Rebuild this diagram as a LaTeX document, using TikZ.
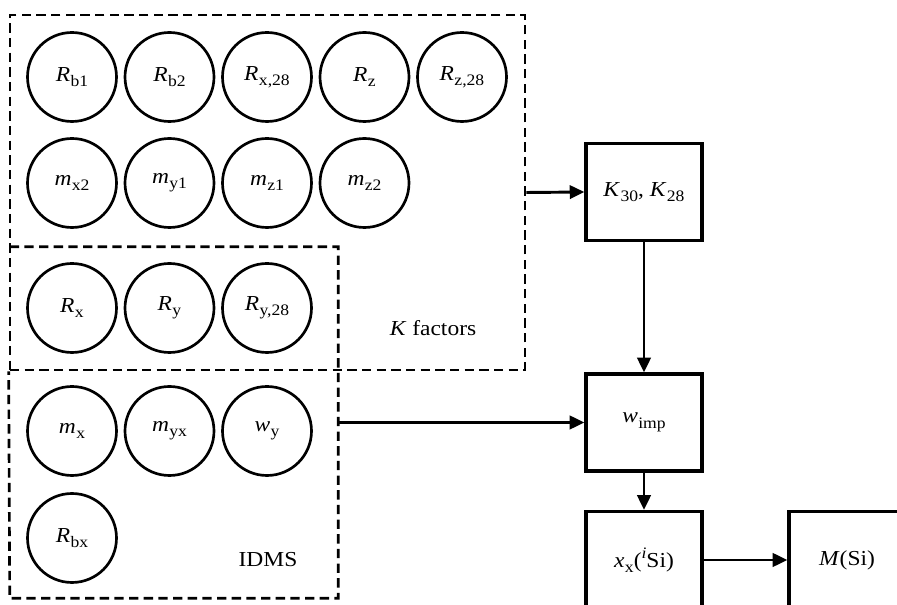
\documentclass[tikz,border=0pt]{standalone}
\usepackage{fontspec}
\setmainfont[FakeStretch=1.1]{Liberation Serif}
\usetikzlibrary{arrows.meta}
% variable with an upright subscript
\newcommand\qsub[2]{\textit{#1}\kern0.3pt\raisebox{-0.55ex}{\fontsize{12pt}{13pt}\selectfont #2}}
\tikzset{
  qty/.style={circle,draw,line width=2pt,minimum size=66.75pt,inner sep=0pt,font=\fontsize{16pt}{18pt}\selectfont},
  calcbox/.style={rectangle,draw,line width=2.4pt,minimum width=87pt,minimum height=72.75pt,inner sep=0pt,font=\fontsize{16pt}{18pt}\selectfont},
  groupline/.style={line width=2pt,dash pattern=on 7pt off 4pt},
  group/.style={rectangle,inner sep=0pt},
  grouplabel/.style={font=\fontsize{16pt}{18pt}\selectfont,inner sep=0pt},
  flow/.style={line width=2.2pt,-{Triangle[length=11pt,width=10pt]}}
}
\begin{document}
\begin{tikzpicture}[x=0.75pt,y=-0.75pt]
\clip (0,0) rectangle (897,605);
\fill[white] (0,0) rectangle (897,605);

% dashed groups; the IDMS outline shares its upper left edge with the K group
\node[group,draw,groupline,minimum width=386.25pt,minimum height=266.25pt] (kgroup) at (267.5,192.5) {};
\node[group,minimum width=246pt,minimum height=263.25pt] (idms) at (174,422.5) {};
\draw[groupline] (idms.north west) -- (idms.north east) -- (idms.south east)
  -- (idms.south west) -- (kgroup.south west);
\node[grouplabel] (klabel) at (433,328) {\textit{K} factors};
\node[grouplabel] (idmslabel) at (268,560) {IDMS};

% input quantities
\node[qty] (rb1) at (72,77) {\qsub{R}{b1}};
\node[qty] (rb2) at (169.5,77) {\qsub{R}{b2}};
\node[qty] (rx28) at (267,77) {\qsub{R}{x,28}};
\node[qty] (rz) at (364.5,77) {\qsub{R}{z}};
\node[qty] (rz28) at (462,77) {\qsub{R}{z,28}};

\node[qty] (mx2) at (72,183) {\qsub{m}{x2}};
\node[qty] (my1) at (169.5,183) {\qsub{m}{y1}};
\node[qty] (mz1) at (267,183) {\qsub{m}{z1}};
\node[qty] (mz2) at (364.5,183) {\qsub{m}{z2}};

\node[qty] (rx) at (72,308) {\qsub{R}{x}};
\node[qty] (ry) at (169.5,308) {\qsub{R}{y}};
\node[qty] (ry28) at (267,308) {\qsub{R}{y,28}};

\node[qty] (mx) at (72,431) {\qsub{m}{x}};
\node[qty] (myx) at (169.5,431) {\qsub{m}{yx}};
\node[qty] (wy) at (267,431) {\qsub{w}{y}};

\node[qty] (rbx) at (72,538) {\qsub{R}{bx}};

% calculation chain
\node[calcbox] (kf) at (644,192) {\qsub{K}{30}, \qsub{K}{28}};
\node[calcbox] (wimp) at (644,422.5) {\qsub{w}{imp}};
\node[calcbox] (xx) at (644,560) {\qsub{x}{x}(\raisebox{0.9ex}{\fontsize{12pt}{13pt}\selectfont\textit{i}}Si)};
\node[calcbox] (msi) at (847,560) {\textit{M}(Si)};

\draw[flow] (kgroup.east) -- (kf.west);
\draw[flow] (idms.east) -- (wimp.west);
\draw[flow] (kf.south) -- (wimp.north);
\draw[flow] (wimp.south) -- (xx.north);
\draw[flow] (xx.east) -- (msi.west);
\end{tikzpicture}
\end{document}
